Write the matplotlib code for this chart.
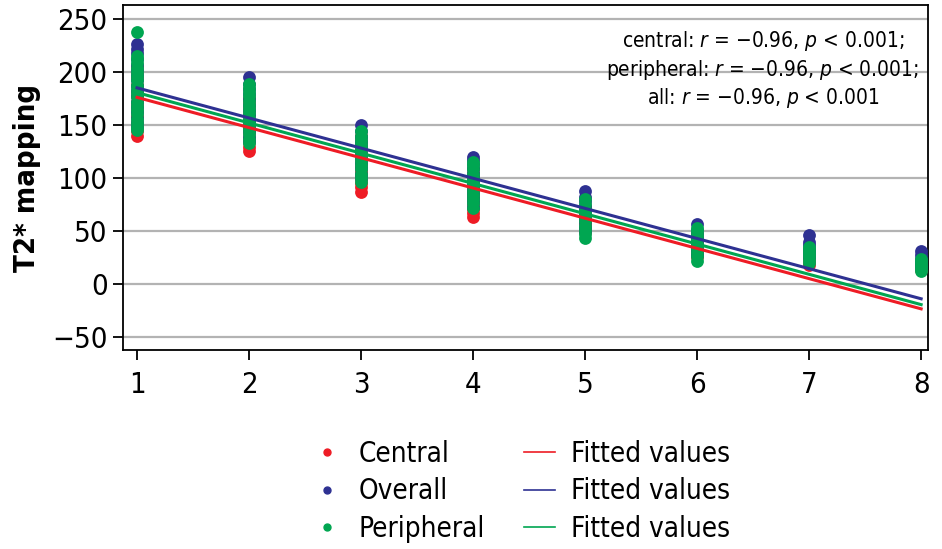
# T2* mapping vs position, scatter per region with fitted lines
import matplotlib
matplotlib.use("Agg")
import matplotlib.pyplot as plt
from matplotlib.lines import Line2D

# Data
posiciones = [1, 2, 3, 4, 5, 6, 7, 8]

central = {
    1: [140, 144, 148, 153, 158, 163, 168, 172, 177, 182, 188, 195, 200, 205],
    2: [125, 129, 134, 138, 142, 146, 150, 155, 160, 164, 168, 172, 175],
    3: [87, 91, 95, 99, 103, 107, 111, 115, 119, 123, 127, 131, 135, 140],
    4: [63, 67, 71, 75, 79, 83, 87, 91, 95, 100, 104, 108],
    5: [49, 53, 57, 61, 65, 69, 73],
    6: [25, 28, 32, 36, 40, 44, 48],
    7: [18, 21, 24, 27, 30, 33],
    8: [13, 16, 19, 22],
}
overall = {
    1: [148, 152, 157, 162, 167, 172, 177, 182, 187, 192, 197, 202, 207, 212, 218, 222, 226],
    2: [135, 139, 144, 149, 154, 159, 164, 169, 174, 179, 184, 189, 195],
    3: [100, 104, 109, 114, 119, 124, 129, 134, 139, 144, 150],
    4: [73, 77, 81, 85, 89, 93, 97, 101, 105, 109, 113, 117, 120],
    5: [50, 54, 58, 62, 66, 70, 74, 78, 82, 88],
    6: [27, 31, 35, 39, 43, 47, 51, 57],
    7: [25, 29, 33, 37, 40, 46],
    8: [15, 18, 21, 24, 27, 31],
}
peripheral = {
    1: [145, 148, 152, 156, 160, 164, 168, 172, 176, 180, 184, 188, 192, 196, 200, 204, 208, 212, 215, 238],
    2: [133, 137, 141, 145, 149, 153, 157, 161, 165, 169, 173, 177, 181, 185, 189],
    3: [96, 100, 104, 108, 112, 116, 120, 124, 128, 132, 136, 140, 144],
    4: [72, 76, 80, 84, 88, 92, 96, 100, 104, 108, 112, 115],
    5: [43, 47, 51, 55, 59, 63, 67, 71, 75, 80],
    6: [22, 26, 30, 34, 38, 42, 46, 50, 53],
    7: [20, 23, 26, 29, 32, 35],
    8: [12, 15, 18, 21, 24],
}

# Fitted lines (end points)
fit_x = [1, 8]
fit_central = [176, -23.5]
fit_overall = [185, -14]
fit_peripheral = [180.5, -19.5]

rojo, azul, verde = "#ee1c25", "#2e3192", "#00a651"

plt.rcParams["font.family"] = ["DejaVu Sans"]
plt.rcParams["font.stretch"] = "condensed"
plt.rcParams["mathtext.fontset"] = "custom"
plt.rcParams["mathtext.it"] = "DejaVu Sans:italic:stretch=condensed"
plt.rcParams["mathtext.rm"] = "DejaVu Sans:stretch=condensed"

fig = plt.figure(figsize=(9.42, 5.49), dpi=100)
ax = fig.add_axes([0.1306, 0.3625, 0.8544, 0.6285])

def aplanar(d):
    xs, ys = [], []
    for k in posiciones:
        xs += [k] * len(d[k])
        ys += d[k]
    return xs, ys

for datos, color in [(central, rojo), (overall, azul), (peripheral, verde)]:
    xs, ys = aplanar(datos)
    ax.scatter(xs, ys, s=85, color=color, linewidths=0, zorder=3)

ax.plot(fit_x, fit_central, color=rojo, lw=2.2, zorder=4)
ax.plot(fit_x, fit_overall, color=azul, lw=2.2, zorder=4)
ax.plot(fit_x, fit_peripheral, color=verde, lw=2.2, zorder=4)

ax.set_xlim(0.875, 8.06)
ax.set_ylim(-62.3, 263.2)
ax.set_xticks(posiciones)
ax.set_yticks([-50, 0, 50, 100, 150, 200, 250])
ax.set_yticklabels(["\u221250", "0", "50", "100", "150", "200", "250"])
ax.yaxis.grid(True, color="#b3b3b3", lw=1.6, zorder=0)
ax.set_axisbelow(True)
ax.tick_params(axis="both", direction="out", length=7, width=1.3, labelsize=21, pad=4)
ax.tick_params(axis="x", pad=8)
for s in ax.spines.values():
    s.set_linewidth(1.3)
ax.set_ylabel("T2* mapping", fontsize=21, fontweight="bold", labelpad=8)

ax.text(0.795, 0.93,
        "central: $r$ = \u22120.96, $p$ < 0.001;\nperipheral: $r$ = \u22120.96, $p$ < 0.001;\nall: $r$ = \u22120.96, $p$ < 0.001",
        transform=ax.transAxes, ha="center", va="top", fontsize=15, linespacing=1.25)

# Leyenda
handles = [
    Line2D([], [], ls="", marker="o", ms=5, color=rojo),
    Line2D([], [], ls="", marker="o", ms=5, color=azul),
    Line2D([], [], ls="", marker="o", ms=5, color=verde),
    Line2D([], [], color=rojo, lw=1.2),
    Line2D([], [], color=azul, lw=1.2),
    Line2D([], [], color=verde, lw=1.2),
]
labels = ["Central", "Overall", "Peripheral", "Fitted values", "Fitted values", "Fitted values"]
fig.legend(handles, labels, ncol=2, loc="center", bbox_to_anchor=(0.553, 0.105),
           frameon=False, fontsize=20, labelspacing=0.35, columnspacing=1.4,
           handlelength=1.1, handletextpad=0.6)

fig.savefig("out.png", dpi=100)
